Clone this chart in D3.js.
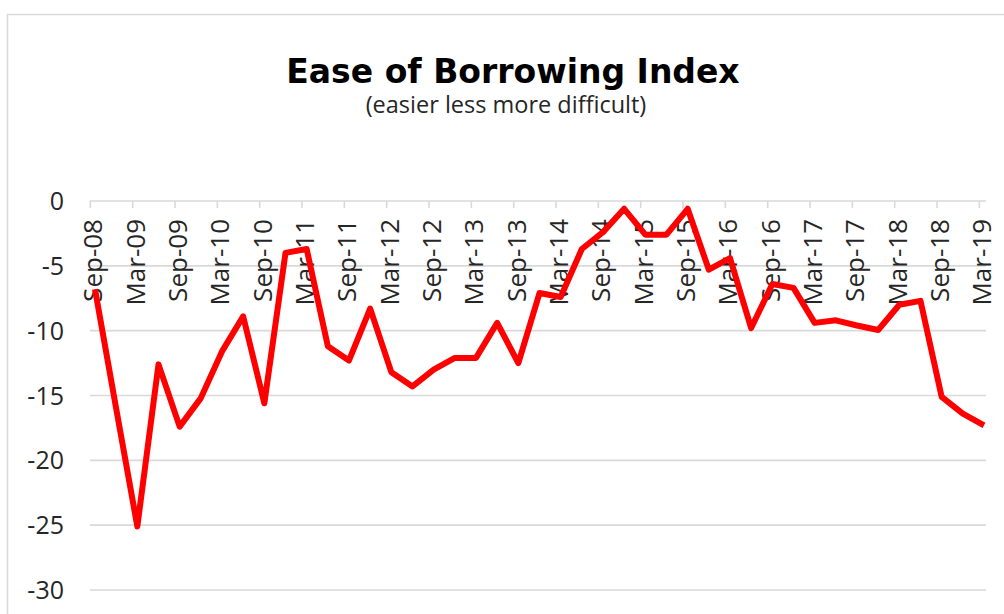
<!DOCTYPE html>
<html>
<head>
<meta charset="utf-8">
<script src="https://cdn.jsdelivr.net/npm/d3@7"></script>
<style>
  body { margin: 0; background: #fff; }
  #chart { width: 1004px; height: 614px; }
</style>
</head>
<body>
<div id="chart"></div>
<script>

// quarterly readings, Sep-08 .. Mar-19
var quarters = ['Sep-08','Dec-08','Mar-09','Jun-09','Sep-09','Dec-09','Mar-10','Jun-10',
    'Sep-10','Dec-10','Mar-11','Jun-11','Sep-11','Dec-11','Mar-12','Jun-12',
    'Sep-12','Dec-12','Mar-13','Jun-13','Sep-13','Dec-13','Mar-14','Jun-14',
    'Sep-14','Dec-14','Mar-15','Jun-15','Sep-15','Dec-15','Mar-16','Jun-16',
    'Sep-16','Dec-16','Mar-17','Jun-17','Sep-17','Dec-17','Mar-18','Jun-18',
    'Sep-18','Dec-18','Mar-19']

var index = [-6.8, -16.0, -25.1, -12.6, -17.4, -15.2, -11.6, -8.9,
    -15.6, -4.0, -3.7, -11.2, -12.3, -8.3, -13.2, -14.3,
    -13.0, -12.1, -12.1, -9.4, -12.5, -7.1, -7.4, -3.7,
    -2.4, -0.6, -2.6, -2.6, -0.6, -5.3, -4.4, -9.8,
    -6.4, -6.7, -9.4, -9.2, -9.6, -9.95, -8.0, -7.7,
    -15.1, -16.4, -17.3]

var yTicks = [0, -5, -10, -15, -20, -25, -30]

// every second quarter gets a label
var labelQuarters = quarters.filter(function(d, i) { return i % 2 == 0 })

var width = 1004,
    height = 614

var svg = d3.select('#chart')
    .append('svg')
    .attr('width', width)
    .attr('height', height)

// outer chart frame
svg.append('rect')
    .attr('x', 7.5)
    .attr('y', 14.5)
    .attr('width', width)
    .attr('height', height)
    .attr('fill', 'none')
    .attr('stroke', '#d9d9d9')
    .attr('stroke-width', 1.5)

svg.append('text')
    .attr('x', 513)
    .attr('y', 83)
    .attr('text-anchor', 'middle')
    .style('font-family', 'DejaVu Sans')
    .style('font-weight', 'bold')
    .style('font-size', '33px')
    .attr('fill', '#000')
    .text('Ease of Borrowing Index')

svg.append('text')
    .attr('x', 506)
    .attr('y', 113)
    .attr('text-anchor', 'middle')
    .style('font-family', 'Open Sans')
    .style('font-size', '23.5px')
    .attr('fill', '#262626')
    .text('(easier less more difficult)')

var x = d3.scaleLinear()
    .domain([0, quarters.length - 1])
    .range([95, 984])

var y = d3.scaleLinear()
    .domain([-30, 0])
    .range([590, 201])

var tickShift = -0.22  // category ticks sit a little left of the points

// horizontal gridlines
svg.append('g')
    .selectAll('line')
    .data(yTicks)
    .enter()
    .append('line')
    .attr('x1', 90)
    .attr('x2', 986)
    .attr('y1', function(d) { return y(d) })
    .attr('y2', function(d) { return y(d) })
    .attr('stroke', '#d9d9d9')
    .attr('stroke-width', 1.6)

// y labels
svg.append('g')
    .selectAll('text')
    .data(yTicks)
    .enter()
    .append('text')
    .attr('x', 64)
    .attr('y', function(d) { return y(d) + 9 })
    .attr('text-anchor', 'end')
    .style('font-family', 'Open Sans')
    .style('font-size', '25px')
    .attr('fill', '#262626')
    .text(function(d) { return d })

// category ticks on the zero line
svg.append('g')
    .selectAll('line')
    .data(labelQuarters)
    .enter()
    .append('line')
    .attr('x1', function(d) { return x(quarters.indexOf(d) + tickShift) })
    .attr('x2', function(d) { return x(quarters.indexOf(d) + tickShift) })
    .attr('y1', y(0))
    .attr('y2', y(0) + 7)
    .attr('stroke', '#d9d9d9')
    .attr('stroke-width', 1.6)

// rotated category labels
svg.append('g')
    .selectAll('text')
    .data(labelQuarters)
    .enter()
    .append('text')
    .attr('transform', function(d) {
        return 'translate(' + (x(quarters.indexOf(d) + tickShift) + 12) + ',219) rotate(-90)'
    })
    .attr('text-anchor', 'end')
    .style('font-family', 'Open Sans')
    .style('font-size', '26px')
    .attr('fill', '#262626')
    .text(function(d) { return d })

var line = d3.line()
    .x(function(d, i) { return x(i) })
    .y(function(d) { return y(d) })

svg.append('path')
    .datum(index)
    .attr('d', line)
    .attr('fill', 'none')
    .attr('stroke', '#ff0000')
    .attr('stroke-width', 6)
    .attr('stroke-linejoin', 'round')
    .attr('stroke-linecap', 'butt')

</script>
</body>
</html>
